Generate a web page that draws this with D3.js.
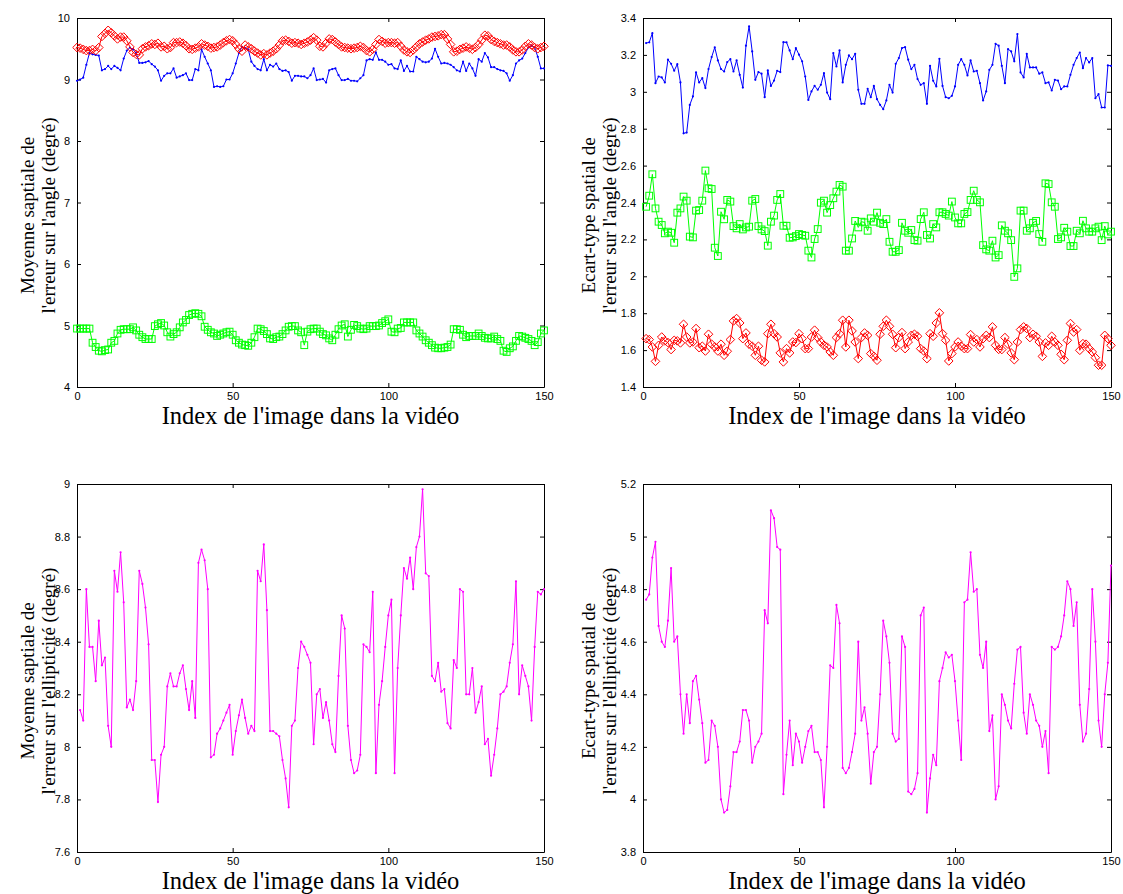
<!DOCTYPE html>
<html><head><meta charset="utf-8">
<script src="https://cdn.jsdelivr.net/npm/d3@7"></script>
<style>body{margin:0;background:#fff}</style>
</head><body>
<svg id="c" width="1123" height="894"></svg>
<script>
// ---------------- data ----------------
const xTicks=[0,50,100,150];
const xLabel="Index de l'image dans la vidéo";
const p1YTicks=[4,5,6,7,8,9,10];
const p2YTicks=[1.4,1.6,1.8,2,2.2,2.4,2.6,2.8,3,3.2,3.4];
const p3YTicks=[7.6,7.8,8,8.2,8.4,8.6,8.8,9];
const p4YTicks=[3.8,4,4.2,4.4,4.6,4.8,5,5.2];
const p1Label=["Moyenne saptiale de","l'erreur sur l'angle (degré)"];
const p2Label=["Ecart-type spatial de","l'erreur sur l'angle (degré)"];
const p3Label=["Moyenne saptiale de","l'erreur sur l'ellipticité (degré)"];
const p4Label=["Ecart-type spatial de","l'erreur sur l'ellipticité (degré)"];

// panel 1 : mean angle error (index 0..150)
const p1Blue=[8.98,9.00,9.03,9.24,9.43,9.41,9.40,9.39,9.15,9.17,
9.22,9.17,9.22,9.19,9.15,9.34,9.47,9.52,9.49,9.43,
9.27,9.27,9.28,9.30,9.25,9.21,9.15,8.98,9.06,9.10,
9.10,9.18,9.03,9.05,9.07,9.10,8.99,8.99,9.17,9.15,
9.49,9.37,9.26,9.15,8.88,8.89,8.88,8.89,9.00,9.00,
9.10,9.26,9.43,9.53,9.51,9.49,9.29,9.22,9.17,9.15,
9.33,9.15,9.24,9.21,9.26,9.17,9.14,9.15,9.12,8.98,
9.06,9.06,9.05,9.05,9.02,9.07,9.18,8.99,9.00,9.01,
8.95,9.15,9.17,9.18,9.07,8.99,8.99,9.01,8.98,8.98,
8.97,9.02,9.07,9.31,9.33,9.32,9.44,9.32,9.32,9.29,
9.24,9.25,9.18,9.17,9.31,9.14,9.22,9.13,9.13,9.37,
9.33,9.29,9.28,9.29,9.34,9.50,9.37,9.26,9.27,9.26,
9.24,9.20,9.15,9.13,9.29,9.14,9.26,9.18,9.06,9.33,
9.29,9.43,9.36,9.20,9.20,9.17,9.15,9.14,9.10,8.98,
9.07,9.26,9.31,9.34,9.43,9.52,9.55,9.52,9.37,9.18,
9.18];
const p1Red=[9.52,9.51,9.49,9.47,9.47,9.49,9.47,9.52,9.70,9.75,
9.80,9.76,9.71,9.66,9.69,9.69,9.63,9.53,9.44,9.41,
9.40,9.50,9.53,9.55,9.58,9.57,9.59,9.53,9.54,9.50,
9.52,9.60,9.60,9.61,9.59,9.55,9.50,9.49,9.51,9.53,
9.58,9.56,9.54,9.51,9.52,9.53,9.56,9.60,9.63,9.65,
9.63,9.57,9.50,9.46,9.56,9.53,9.50,9.46,9.43,9.40,
9.42,9.40,9.43,9.46,9.50,9.56,9.63,9.64,9.62,9.59,
9.60,9.59,9.57,9.59,9.61,9.64,9.68,9.64,9.54,9.53,
9.59,9.66,9.65,9.61,9.57,9.53,9.52,9.51,9.50,9.51,
9.52,9.54,9.52,9.47,9.45,9.49,9.57,9.65,9.62,9.59,
9.60,9.60,9.59,9.60,9.54,9.48,9.45,9.44,9.48,9.53,
9.58,9.61,9.64,9.66,9.69,9.70,9.71,9.73,9.73,9.66,
9.57,9.45,9.46,9.49,9.51,9.53,9.51,9.49,9.52,9.57,
9.64,9.72,9.71,9.65,9.62,9.60,9.58,9.56,9.56,9.53,
9.48,9.45,9.45,9.48,9.54,9.58,9.56,9.52,9.50,9.52,
9.54];
const p1Green=[4.95,4.95,4.95,4.95,4.95,4.72,4.65,4.59,4.58,4.60,
4.61,4.72,4.75,4.87,4.93,4.94,4.94,4.94,4.97,4.92,
4.85,4.81,4.78,4.78,4.78,4.99,5.02,5.04,5.00,4.89,
4.82,4.86,4.89,4.97,5.05,5.09,5.17,5.19,5.20,5.19,
5.15,4.98,4.93,4.89,4.87,4.83,4.85,4.87,4.89,4.90,
4.85,4.76,4.72,4.69,4.68,4.67,4.72,4.81,4.95,4.94,
4.91,4.86,4.79,4.78,4.81,4.82,4.86,4.92,4.98,4.99,
4.99,4.92,4.89,4.68,4.90,4.94,4.95,4.95,4.90,4.86,
4.84,4.79,4.76,4.85,4.94,5.00,5.02,4.82,4.93,5.01,
4.99,4.95,4.94,4.95,4.99,4.99,4.99,5.00,5.04,5.07,
5.10,4.90,4.89,4.95,4.96,5.05,5.05,5.05,5.05,4.92,
4.87,4.82,4.76,4.72,4.68,4.64,4.63,4.63,4.64,4.65,
4.69,4.94,4.94,4.93,4.85,4.81,4.83,4.83,4.83,4.87,
4.83,4.80,4.79,4.79,4.82,4.78,4.75,4.59,4.57,4.63,
4.66,4.75,4.83,4.82,4.80,4.78,4.75,4.68,4.73,4.87,
4.92];

// panel 2 : std angle error (index 1..150)
const p2Blue=[3.264,3.268,3.318,3.047,3.083,3.078,3.051,3.174,3.152,3.114,
3.150,3.051,2.775,2.779,2.929,2.975,3.105,3.051,3.074,3.020,
3.123,3.188,3.241,3.170,3.123,3.110,3.161,3.177,3.110,3.170,
3.092,3.023,3.250,3.355,3.219,3.065,3.107,3.098,2.971,3.116,
3.032,3.061,3.114,3.107,3.269,3.268,3.224,3.177,3.237,3.201,
3.165,3.083,2.956,3.002,3.032,3.011,3.038,3.101,2.996,2.960,
3.210,3.137,3.224,3.051,3.146,3.197,3.177,3.206,3.011,2.935,
2.935,3.016,2.971,3.032,2.960,2.929,2.906,2.953,3.038,2.996,
3.152,3.183,3.237,3.242,3.174,3.123,3.146,3.069,3.038,3.047,
2.935,3.141,3.060,3.029,3.179,3.032,2.971,2.965,2.978,3.029,
3.146,3.177,3.146,3.089,3.170,3.110,3.114,3.047,2.953,3.002,
3.119,3.146,3.260,3.250,3.141,3.047,3.231,3.219,3.165,3.313,
3.105,3.078,3.206,3.132,3.132,3.132,3.098,3.105,3.047,3.051,
3.007,3.065,3.061,3.014,3.029,3.029,3.092,3.146,3.183,3.213,
3.128,3.183,3.159,3.183,2.965,2.987,2.915,2.915,3.143,3.141];
const p2Green=[2.377,2.437,2.553,2.368,2.296,2.278,2.233,2.242,2.236,2.182,
2.345,2.368,2.432,2.410,2.215,2.211,2.356,2.359,2.410,2.573,
2.477,2.473,2.155,2.110,2.350,2.309,2.414,2.405,2.272,2.260,
2.283,2.254,2.265,2.269,2.410,2.419,2.272,2.254,2.245,2.166,
2.296,2.329,2.414,2.446,2.274,2.274,2.209,2.211,2.218,2.229,
2.224,2.220,2.139,2.102,2.202,2.256,2.399,2.410,2.345,2.386,
2.423,2.459,2.495,2.486,2.139,2.139,2.205,2.300,2.265,2.296,
2.292,2.247,2.314,2.296,2.345,2.290,2.283,2.310,2.187,2.133,
2.133,2.142,2.290,2.247,2.236,2.251,2.196,2.193,2.310,2.347,
2.224,2.205,2.283,2.265,2.347,2.347,2.338,2.329,2.405,2.319,
2.287,2.287,2.338,2.348,2.414,2.464,2.414,2.401,2.169,2.146,
2.139,2.193,2.102,2.115,2.276,2.247,2.233,2.196,1.997,2.043,
2.356,2.356,2.247,2.260,2.290,2.300,2.229,2.187,2.504,2.500,
2.401,2.377,2.202,2.211,2.263,2.242,2.164,2.164,2.247,2.233,
2.301,2.260,2.242,2.242,2.260,2.269,2.196,2.272,2.227,2.242];
const p2Red=[1.662,1.657,1.617,1.539,1.626,1.671,1.650,1.641,1.603,1.653,
1.650,1.639,1.740,1.671,1.639,1.644,1.717,1.613,1.621,1.595,
1.686,1.632,1.617,1.595,1.632,1.572,1.594,1.657,1.758,1.771,
1.747,1.662,1.693,1.632,1.621,1.572,1.621,1.545,1.536,1.689,
1.740,1.689,1.671,1.585,1.536,1.608,1.585,1.644,1.641,1.689,
1.662,1.608,1.608,1.671,1.708,1.668,1.644,1.626,1.617,1.590,
1.572,1.668,1.689,1.762,1.617,1.762,1.704,1.644,1.554,1.668,
1.693,1.680,1.581,1.566,1.545,1.686,1.729,1.762,1.729,1.686,
1.613,1.668,1.695,1.608,1.644,1.680,1.686,1.675,1.608,1.595,
1.554,1.689,1.675,1.747,1.802,1.689,1.653,1.541,1.581,1.617,
1.644,1.621,1.608,1.608,1.684,1.644,1.657,1.617,1.662,1.680,
1.668,1.726,1.626,1.604,1.603,1.668,1.632,1.585,1.548,1.644,
1.711,1.726,1.717,1.668,1.686,1.675,1.644,1.566,1.639,1.626,
1.675,1.644,1.626,1.577,1.548,1.653,1.744,1.698,1.711,1.599,
1.635,1.632,1.608,1.590,1.559,1.518,1.518,1.680,1.662,1.626];

// panel 3 : mean ellipticity error (index 1..150)
const p3Magenta=[8.14,8.10,8.60,8.38,8.38,8.25,8.48,8.31,8.34,8.08,
8.00,8.67,8.59,8.74,8.55,8.15,8.18,8.14,8.25,8.67,
8.62,8.53,8.39,7.95,7.95,7.79,7.97,8.00,8.23,8.28,
8.23,8.23,8.28,8.31,8.22,8.14,8.25,8.11,8.70,8.75,
8.71,8.60,7.96,7.97,8.05,8.07,8.10,8.13,8.16,7.97,
8.06,8.12,8.18,8.11,8.05,8.08,8.06,8.67,8.63,8.77,
8.52,8.06,8.06,8.05,8.04,7.95,7.88,7.77,8.08,8.10,
8.30,8.40,8.38,8.35,8.32,8.01,8.20,8.22,8.11,8.17,
8.10,8.01,7.98,8.27,8.50,8.45,8.08,7.95,7.90,7.91,
7.97,8.39,8.38,8.36,8.59,7.90,8.16,8.25,8.38,8.50,
8.56,7.90,8.30,8.50,8.68,8.64,8.72,8.60,8.76,8.80,
8.98,8.66,8.65,8.27,8.25,8.32,8.21,8.22,8.09,8.07,
8.33,8.30,8.60,8.59,8.20,8.20,8.30,8.13,8.17,8.23,
8.01,8.03,7.89,7.97,8.07,8.20,8.21,8.23,8.32,8.39,
8.63,8.20,8.31,8.27,8.23,8.10,8.38,8.59,8.58,8.60];
// panel 4 : std ellipticity error (index 1..150)
const p4Magenta=[4.76,4.78,4.92,4.98,4.66,4.60,4.58,4.68,4.88,4.60,
4.62,4.40,4.25,4.40,4.29,4.45,4.47,4.38,4.29,4.14,
4.15,4.30,4.28,4.20,4.00,3.95,3.96,4.05,4.18,4.18,
4.22,4.34,4.34,4.30,4.14,4.20,4.22,4.25,4.72,4.67,
5.10,5.07,4.96,4.95,4.02,4.17,4.30,4.13,4.25,4.22,
4.14,4.20,4.26,4.28,4.18,4.18,4.15,3.97,4.20,4.51,
4.50,4.74,4.67,4.12,4.10,4.12,4.18,4.25,4.60,4.30,
4.35,4.25,4.06,4.18,4.20,4.40,4.68,4.62,4.52,4.25,
4.22,4.23,4.62,4.58,4.03,4.02,4.04,4.10,4.70,4.73,
3.95,4.08,4.17,4.13,4.45,4.50,4.56,4.54,4.55,4.45,
4.30,4.15,4.75,4.76,4.94,4.79,4.80,4.55,4.50,4.60,
4.26,4.32,4.00,4.05,4.40,4.36,4.30,4.27,4.44,4.57,
4.58,4.33,4.25,4.40,4.36,4.30,4.28,4.20,4.26,4.10,
4.58,4.57,4.58,4.62,4.70,4.83,4.80,4.66,4.75,4.36,
4.22,4.25,4.42,4.80,4.60,4.30,4.20,4.40,4.52,4.89];

// ---------------- layout / styles ----------------
const panels=[
 {x:77,y:18,w:467,h:369,yDomain:[4,10],yTicks:p1YTicks,label:p1Label,labX:[27,48],
  series:[{v:p1Blue,start:0,color:"#0000ff",m:"dot"},{v:p1Red,start:0,color:"#ff0000",m:"diamond"},{v:p1Green,start:0,color:"#00ff00",m:"square"}]},
 {x:643,y:18,w:468,h:369,yDomain:[1.4,3.4],yTicks:p2YTicks,label:p2Label,labX:[588,609],
  series:[{v:p2Blue,start:1,color:"#0000ff",m:"dot"},{v:p2Green,start:1,color:"#00ff00",m:"square"},{v:p2Red,start:1,color:"#ff0000",m:"diamond"}]},
 {x:77,y:484,w:467,h:368,yDomain:[7.6,9],yTicks:p3YTicks,label:p3Label,labX:[27,48],
  series:[{v:p3Magenta,start:1,color:"#ff00ff",m:"dot"}]},
 {x:643,y:484,w:468,h:368,yDomain:[3.8,5.2],yTicks:p4YTicks,label:p4Label,labX:[588,609],
  series:[{v:p4Magenta,start:1,color:"#ff00ff",m:"dot"}]}
];

const svg=d3.select('#c');
svg.append('rect').attr('width',1123).attr('height',894).attr('fill','#fff');

panels.forEach(p=>{
  const g=svg.append('g');
  const x=d3.scaleLinear().domain([0,150]).range([p.x,p.x+p.w]);
  const y=d3.scaleLinear().domain(p.yDomain).range([p.y+p.h,p.y]);

  const tickLen=4;
  const fmt=d=>String(d);
  const ax=[
    {a:d3.axisBottom(x).tickValues(xTicks).tickFormat(fmt),t:`translate(0,${p.y+p.h})`,lab:true,pad:5},
    {a:d3.axisTop(x).tickValues(xTicks).tickFormat(''),t:`translate(0,${p.y})`,lab:false,pad:0},
    {a:d3.axisLeft(y).tickValues(p.yTicks).tickFormat(fmt),t:`translate(${p.x},0)`,lab:true,pad:7},
    {a:d3.axisRight(y).tickValues(p.yTicks).tickFormat(''),t:`translate(${p.x+p.w},0)`,lab:false,pad:0}
  ];
  ax.forEach(o=>{
    const ag=g.append('g').attr('transform',o.t)
      .call(o.a.tickSizeInner(-tickLen).tickSizeOuter(0).tickPadding(o.pad));
    ag.select('.domain').attr('stroke','#000').attr('stroke-width',1);
    ag.selectAll('.tick line').attr('stroke','#000').attr('stroke-width',1);
    ag.selectAll('.tick text').attr('font-family','Liberation Sans, Arial, sans-serif')
      .attr('font-size',11).attr('fill','#000');
  });

  p.series.forEach(s=>{
    const pts=s.v.map((v,i)=>[x(i+s.start),y(v)]);
    g.append('path').attr('d',d3.line()(pts)).attr('fill','none')
      .attr('stroke',s.color).attr('stroke-width',1);
    const mg=g.append('g');
    if(s.m==='dot'){
      mg.selectAll('circle').data(pts).join('circle')
        .attr('cx',d=>d[0]).attr('cy',d=>d[1]).attr('r',1.1).attr('fill',s.color);
    } else if(s.m==='diamond'){
      const r=4.3;
      mg.selectAll('path').data(pts).join('path')
        .attr('d',d=>`M${d[0]},${d[1]-r}L${d[0]+r},${d[1]}L${d[0]},${d[1]+r}L${d[0]-r},${d[1]}Z`)
        .attr('fill','none').attr('stroke',s.color).attr('stroke-width',1);
    } else {
      const h=3.4;
      mg.selectAll('rect').data(pts).join('rect')
        .attr('x',d=>d[0]-h).attr('y',d=>d[1]-h).attr('width',2*h).attr('height',2*h)
        .attr('fill','none').attr('stroke',s.color).attr('stroke-width',1);
    }
  });

  const serif='Liberation Serif, Times New Roman, serif';
  g.append('text').attr('x',p.x+p.w/2).attr('y',p.y+p.h+37)
    .attr('text-anchor','middle').attr('font-family',serif).attr('font-size',24.5)
    .attr('fill','#000').text(xLabel);
  const cy=p.y+p.h/2+13;
  p.label.forEach((t,k)=>{
    g.append('text').attr('transform',`translate(${p.labX[k]},${cy}) rotate(-90)`)
      .attr('text-anchor','middle').attr('dominant-baseline','central')
      .attr('font-family',serif).attr('font-size',19).attr('fill','#000').text(t);
  });
});
</script>
</body></html>
